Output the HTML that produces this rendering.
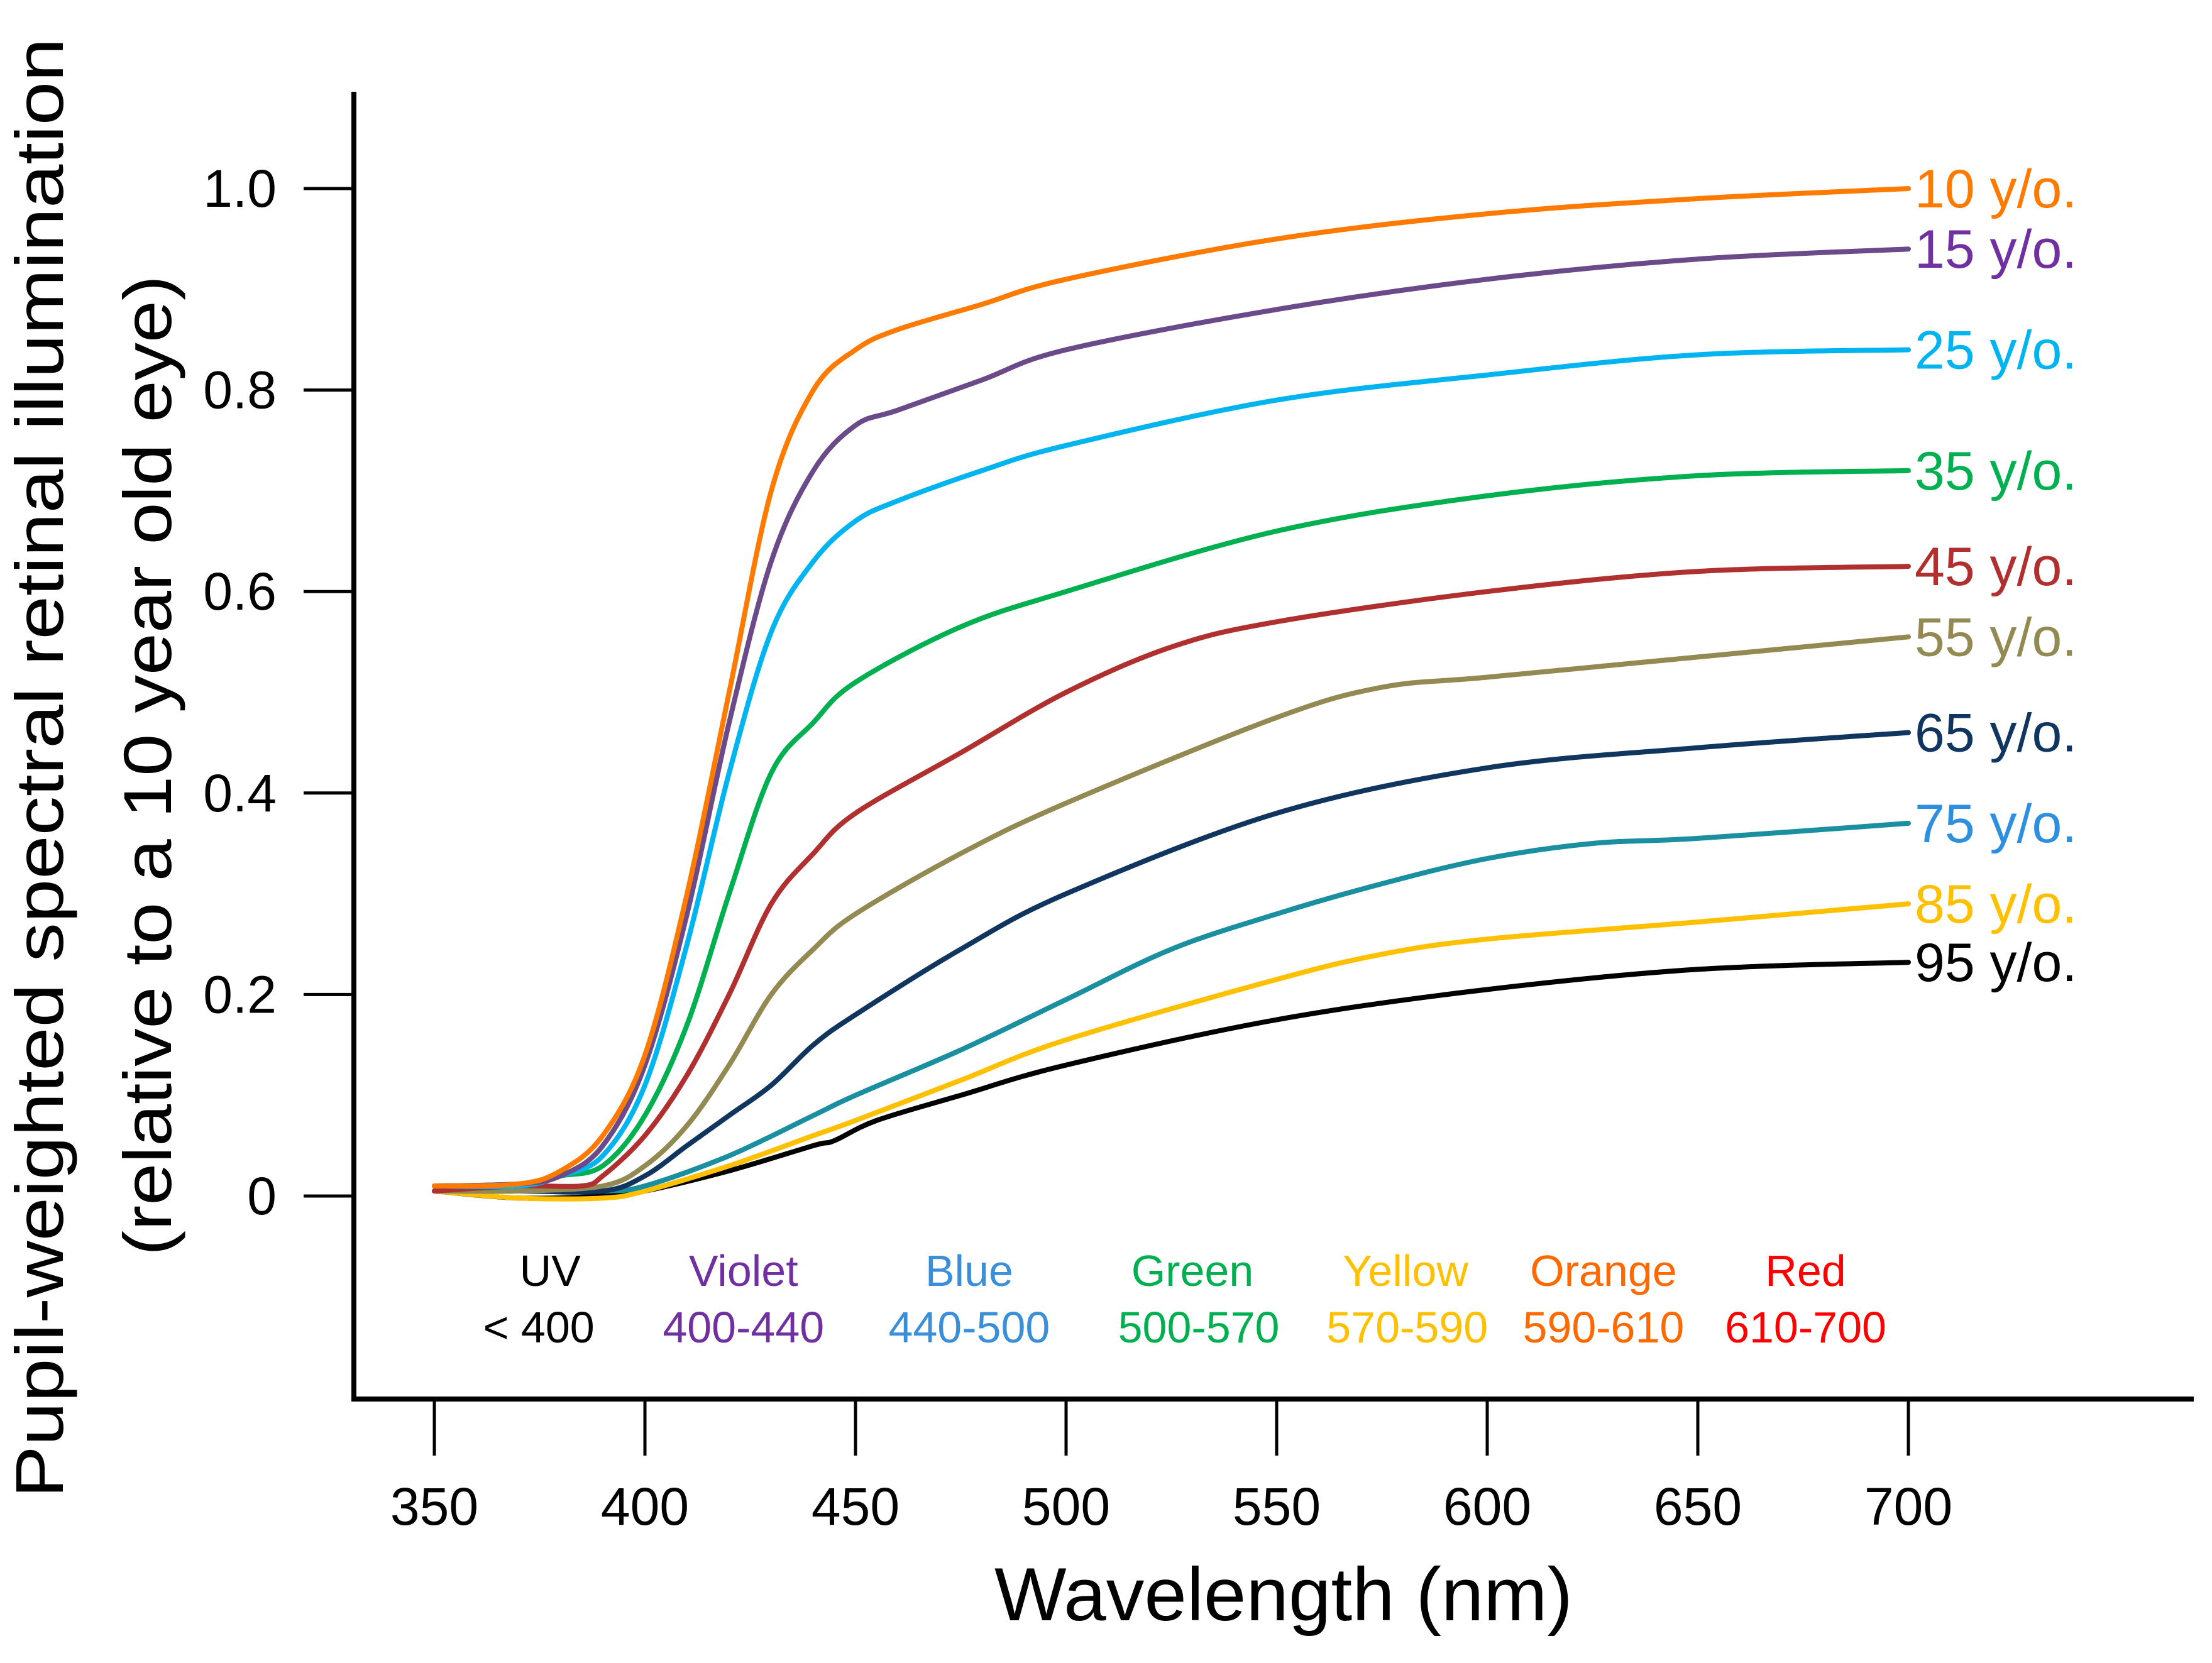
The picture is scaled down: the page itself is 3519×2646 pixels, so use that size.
<!DOCTYPE html>
<html><head><meta charset="utf-8"><title>Pupil-weighted spectral retinal illumination</title>
<style>
html,body{margin:0;padding:0;background:#fff;}
svg{display:block;}
text{font-family:"Liberation Sans",sans-serif;}
.n{font-family:"Liberation Sans Narrow","Liberation Sans",sans-serif;}
</style></head>
<body>
<svg id="chart" width="3519" height="2646" viewBox="0 0 3519 2646" xmlns="http://www.w3.org/2000/svg">
<g id="axes"></g>
<g id="series"></g>
<g id="labels"></g>
<g id="bands"></g>
<text class="n" x="2042" y="2578" font-size="120" text-anchor="middle" textLength="920" lengthAdjust="spacingAndGlyphs">Wavelength (nm)</text>
<text class="n" transform="translate(100,1222) rotate(-90)" font-size="108" text-anchor="middle" textLength="2323" lengthAdjust="spacingAndGlyphs">Pupil-weighted spectral retinal illumination</text>
<text class="n" transform="translate(272,1218) rotate(-90)" font-size="108" text-anchor="middle" textLength="1560" lengthAdjust="spacingAndGlyphs">(relative to a 10 year old eye)</text>
</svg>
<script>
const xTicks = [350,400,450,500,550,600,650,700];
const yTicks = [0,0.2,0.4,0.6,0.8,1.0];
const yTickLabels = ["0","0.2","0.4","0.6","0.8","1.0"];
const seriesNames = ["10 y/o.","15 y/o.","25 y/o.","35 y/o.","45 y/o.","55 y/o.","65 y/o.","75 y/o.","85 y/o.","95 y/o."];
const lineColors = ["#ff7a00","#6b4a8a","#00b4f0","#00b050","#b03030","#938953","#10355e","#1a8fa0","#ffc000","#000000"];
const labelColors = ["#ff7a00","#7030a0","#00b4f0","#00b050","#b03030","#938953","#10355e","#2e8fdf","#ffc000","#000000"];
const s10x=[350,370,380,390,400,410,420,430,440,450,460,480,500,550,600,650,700];
const s10y=[0.01,0.012,0.025,0.06,0.14,0.3,0.5,0.7,0.8,0.84,0.86,0.885,0.91,0.95,0.975,0.99,1.0];
const s15x=[350,370,380,390,400,410,420,430,440,450,460,480,500,550,600,650,700];
const s15y=[0.01,0.012,0.02,0.05,0.13,0.28,0.47,0.63,0.72,0.765,0.78,0.81,0.84,0.88,0.91,0.93,0.94];
const s25x=[350,370,380,390,400,410,420,430,440,450,460,480,500,550,600,650,700];
const s25y=[0.01,0.01,0.02,0.04,0.11,0.25,0.42,0.56,0.63,0.67,0.69,0.72,0.745,0.79,0.815,0.835,0.84];
const s35x=[350,370,380,390,400,410,420,430,440,450,475,500,550,600,650,700];
const s35y=[0.01,0.012,0.02,0.03,0.08,0.17,0.3,0.42,0.47,0.51,0.565,0.6,0.66,0.695,0.715,0.72];
const s45x=[350,370,385,390,400,410,420,430,440,450,475,500,525,550,600,650,700];
const s45y=[0.005,0.01,0.01,0.02,0.06,0.12,0.2,0.29,0.34,0.38,0.44,0.5,0.545,0.57,0.6,0.62,0.625];
const s55x=[350,370,390,400,410,420,430,440,450,475,500,550,575,600,650,700];
const s55y=[0.005,0.005,0.01,0.03,0.07,0.13,0.2,0.245,0.28,0.34,0.39,0.475,0.505,0.515,0.535,0.555];
const s65x=[350,370,390,400,410,420,430,440,450,475,500,550,600,650,700];
const s65y=[0.005,0.005,0.005,0.02,0.05,0.08,0.11,0.15,0.18,0.245,0.3,0.38,0.425,0.445,0.46];
const s75x=[350,370,390,400,420,440,450,475,500,525,550,575,600,625,650,700];
const s75y=[0.005,0.005,0.005,0.01,0.04,0.08,0.1,0.145,0.195,0.245,0.28,0.31,0.335,0.35,0.355,0.37];
const s85x=[350,370,390,400,420,440,450,475,500,550,575,600,650,700];
const s85y=[0.005,-0.002,-0.002,0.005,0.03,0.06,0.075,0.115,0.155,0.215,0.24,0.255,0.272,0.29];
const s95x=[350,370,390,400,420,440,445,455,475,500,550,600,650,700];
const s95y=[0.005,-0.002,0,0.005,0.025,0.05,0.055,0.075,0.1,0.13,0.175,0.205,0.225,0.232];
const seriesX=[s10x,s15x,s25x,s35x,s45x,s55x,s65x,s75x,s85x,s95x];
const seriesY=[s10y,s15y,s25y,s35y,s45y,s55y,s65y,s75y,s85y,s95y];
const bandNames=["UV","Violet","Blue","Green","Yellow","Orange","Red"];
const bandRanges=["< 400","400-440","440-500","500-570","570-590","590-610","610-700"];
const bandColors=["#000000","#7030a0","#3a8fd8","#00b050","#ffc000","#ff6a00","#ff0000"];
const bandNameCenters=[377.5,423.4,477,530,580.6,627.6,675.6];
const bandRangeCenters=[374.8,423.4,477,531.5,581,627.6,675.6];

const NS="http://www.w3.org/2000/svg";
function X(v){return 691+(v-350)*(3036-691)/350;}
function Y(v){return 1903-v*(1903-300)/1.0;}
function mk(tag,attrs,parent){const e=document.createElementNS(NS,tag);for(const k in attrs)e.setAttribute(k,attrs[k]);parent.appendChild(e);return e;}
const axes=document.getElementById('axes');
let e;
e=mk('line',{x1:563,y1:146,x2:563,y2:2228,stroke:'#000','stroke-width':8},axes);


e=mk('line',{x1:559,y1:2226,x2:3490,y2:2226,stroke:'#000','stroke-width':8},axes);


xTicks.forEach(t=>{
 const tk=mk('line',{x1:X(t),y1:2226,x2:X(t),y2:2316,stroke:'#000','stroke-width':5},axes);
 
 
 const lb=mk('text',{x:X(t),y:2426,'font-size':84,'text-anchor':'middle',class:'n'},axes);
 lb.textContent=t;
 
 
});
yTicks.forEach((t,i)=>{
 const tk=mk('line',{x1:483,y1:Y(t),x2:563,y2:Y(t),stroke:'#000','stroke-width':5},axes);
 
 
 const lb=mk('text',{x:440,y:Y(t)+29,'font-size':84,'text-anchor':'end'},axes);
 lb.textContent=yTickLabels[i];
 
 
});
function pathD(xs,ys){
 const p=xs.map((x,i)=>[X(x),Y(ys[i])]);
 let d='M'+p[0][0].toFixed(1)+','+p[0][1].toFixed(1);
 for(let i=0;i<p.length-1;i++){
  const p0=p[i-1]||p[i],p1=p[i],p2=p[i+1],p3=p[i+2]||p2;
  const c1=[p1[0]+(p2[0]-p0[0])/6,p1[1]+(p2[1]-p0[1])/6];
  const c2=[p2[0]-(p3[0]-p1[0])/6,p2[1]-(p3[1]-p1[1])/6];
  d+=' C'+c1.map(v=>v.toFixed(1))+' '+c2.map(v=>v.toFixed(1))+' '+p2.map(v=>v.toFixed(1));
 }
 return d;
}
const sg=document.getElementById('series');
const lg=document.getElementById('labels');
for(let i=seriesNames.length-1;i>=0;i--){
 const pth=mk('path',{d:pathD(seriesX[i],seriesY[i]),fill:'none',stroke:lineColors[i],'stroke-width':8,'stroke-linejoin':'round','stroke-linecap':'round'},sg);
 
 
}
seriesNames.forEach((n,i)=>{
 const ys=seriesY[i];
 const lb=mk('text',{x:3046,y:Y(ys[ys.length-1])+30,'font-size':86,fill:labelColors[i]},lg);
 lb.textContent=n;
 
 
});
const bg=document.getElementById('bands');
bandNames.forEach((n,i)=>{
 const a=mk('text',{x:X(bandNameCenters[i]),y:2046,'font-size':70,'text-anchor':'middle',fill:bandColors[i],class:'n'},bg);
 a.textContent=n;
 
 
 const b=mk('text',{x:X(bandRangeCenters[i]),y:2136,'font-size':70,'text-anchor':'middle',fill:bandColors[i],class:'n'},bg);
 b.textContent=bandRanges[i];
 
 
});
</script>
</body></html>
